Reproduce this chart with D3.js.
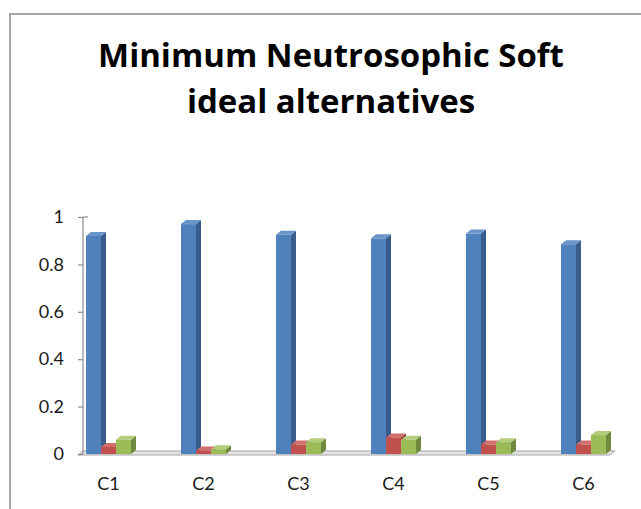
<!DOCTYPE html>
<html>
<head>
<meta charset="utf-8">
<script src="https://cdn.jsdelivr.net/npm/d3@7"></script>
<style>
  html, body { margin: 0; padding: 0; background: #fff; }
  svg { display: block; }
  text { font-variant-ligatures: none; }
</style>
</head>
<body>
<svg id="chart" width="641" height="509"></svg>
<script>
// Criteria and the three neutrosophic components for each one
const categories = ["C1", "C2", "C3", "C4", "C5", "C6"];
const seriesTruth = [0.92, 0.97, 0.925, 0.91, 0.93, 0.885];
const seriesIndeterminacy = [0.03, 0.015, 0.04, 0.07, 0.04, 0.04];
const seriesFalsity = [0.06, 0.02, 0.05, 0.06, 0.05, 0.08];
const yTicks = [0, 0.2, 0.4, 0.6, 0.8, 1];
const titleLines = ["Minimum Neutrosophic Soft", "ideal alternatives"];

const series = [
  { values: seriesTruth, front: "#4f81bd", side: "#385d8a", top: "#6a95c9" },
  { values: seriesIndeterminacy, front: "#c0504d", side: "#8c3836", top: "#d26f6c" },
  { values: seriesFalsity, front: "#9bbb59", side: "#71893f", top: "#b3cd7c" }
];

const svg = d3.select("#chart");
const depthX = 5, depthY = 4;
const labelFont = "Lato, 'Open Sans', sans-serif";

// Chart area frame
svg.append("path")
  .attr("d", "M10,509 L10,14 L641,14")
  .attr("fill", "none")
  .attr("stroke", "#a6a6a6")
  .attr("stroke-width", 2);

// Title, sized so the first line spans the header width
const title = svg.append("text")
  .attr("text-anchor", "middle")
  .attr("font-family", "'Open Sans', Lato, sans-serif")
  .attr("font-weight", "bold")
  .attr("font-size", 30)
  .attr("fill", "#000");
titleLines.forEach((line, i) => {
  title.append("tspan").attr("x", 331).attr("y", 67 + i * 46).text(line);
});
const firstLine = title.select("tspan").node();
const w = firstLine.getComputedTextLength();
title.attr("font-size", 30 * 466 / w);

// Scales
const x0 = d3.scaleBand().domain(categories).range([61, 631]);
const x1 = d3.scaleBand().domain(d3.range(series.length)).range([0, 45]);
const y = d3.scaleLinear().domain([0, 1]).range([454, 217]);

// Floor of the 3D plot
const floorL = 78, floorR = 610, floorY = y(0) + 1;
svg.append("path")
  .attr("d", `M${floorL},${floorY} L${floorR},${floorY} L${floorR + depthX},${floorY - depthY} L${floorL + depthX},${floorY - depthY} Z`)
  .attr("fill", "#e3e3e3")
  .attr("stroke", "#a6a6a6")
  .attr("stroke-width", 1);

// Value axis
const axisX = 83;
svg.append("line")
  .attr("x1", axisX).attr("x2", axisX)
  .attr("y1", y(1)).attr("y2", y(0))
  .attr("stroke", "#8c8c8c").attr("stroke-width", 1.2);
svg.append("line")
  .attr("x1", axisX).attr("x2", axisX + depthX)
  .attr("y1", y(1)).attr("y2", y(1))
  .attr("stroke", "#8c8c8c").attr("stroke-width", 1.2);

const yAxis = d3.axisLeft(y).tickValues(yTicks).tickSize(5).tickPadding(14)
  .tickFormat(d => d3.format("~g")(d));
const gy = svg.append("g").attr("transform", `translate(${axisX},0)`).call(yAxis);
gy.select(".domain").remove();
gy.selectAll(".tick line").attr("stroke", "#8c8c8c").attr("stroke-width", 1.2);
gy.selectAll(".tick text")
  .attr("font-family", labelFont)
  .attr("font-size", 18)
  .attr("fill", "#1a1a1a");

// Category labels
const xAxis = d3.axisBottom(x0).tickSize(0).tickPadding(0);
const gx = svg.append("g").attr("transform", "translate(0,490)").call(xAxis);
gx.select(".domain").remove();
gx.selectAll(".tick text")
  .attr("dy", 0)
  .attr("font-family", labelFont)
  .attr("font-size", 18)
  .attr("fill", "#1a1a1a");

// 3D bars: front face, right side and top
const groups = svg.append("g").selectAll("g")
  .data(categories)
  .join("g")
  .attr("transform", d => `translate(${x0(d) + x0.bandwidth() / 2 - 22.5},0)`);

series.forEach((s, si) => {
  groups.each(function(cat, ci) {
    const g = d3.select(this);
    const v = s.values[ci];
    const bx = x1(si), bw = x1.bandwidth();
    const top = y(v), base = y(0);
    g.append("path")
      .attr("d", `M${bx + bw},${base} L${bx + bw + depthX},${base - depthY} L${bx + bw + depthX},${top - depthY} L${bx + bw},${top} Z`)
      .attr("fill", s.side);
    g.append("path")
      .attr("d", `M${bx},${top} L${bx + depthX},${top - depthY} L${bx + bw + depthX},${top - depthY} L${bx + bw},${top} Z`)
      .attr("fill", s.top);
    g.append("rect")
      .attr("x", bx).attr("y", top)
      .attr("width", bw).attr("height", base - top)
      .attr("fill", s.front);
  });
});
</script>
</body>
</html>
